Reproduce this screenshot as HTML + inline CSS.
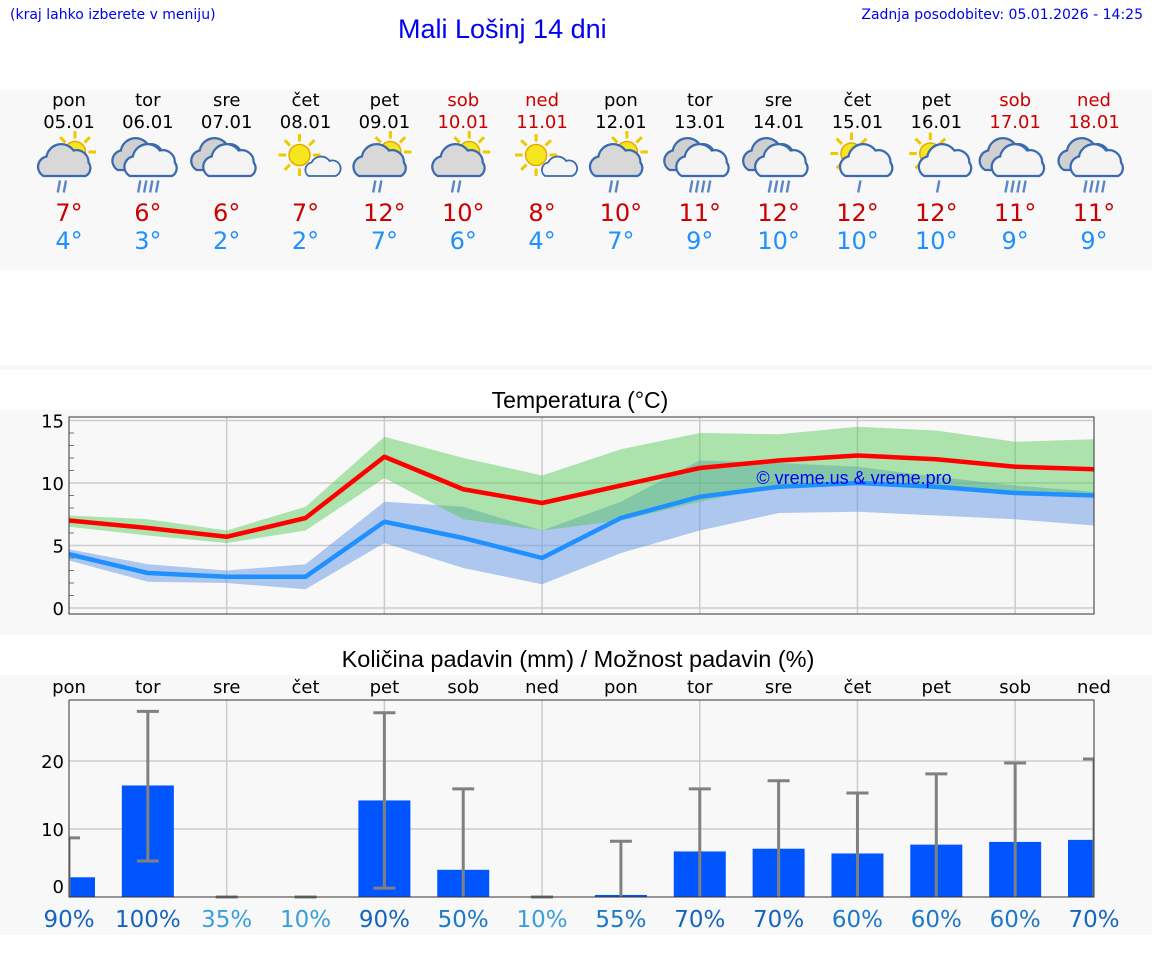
<!DOCTYPE html>
<html><head><meta charset="utf-8">
<style>
body{margin:0;width:1152px;height:975px;background:#fff;font-family:"DejaVu Sans","Liberation Sans",sans-serif;position:relative;overflow:hidden}
.abs{position:absolute}
</style></head>
<body>
<div class="abs" style="left:10px;top:7px;font-size:14px;color:#0000ee">(kraj lahko izberete v meniju)</div>
<div class="abs" style="left:398px;top:14px;font-size:27px;color:#0000ee;font-family:'Liberation Sans',sans-serif">Mali Lošinj 14 dni</div>
<div class="abs" style="right:9px;top:7px;font-size:14px;color:#0000ee">Zadnja posodobitev: 05.01.2026 - 14:25</div>
<div class="abs" style="left:0;top:90px;width:1152px;height:180px;background:#f8f8f8"></div>
<div class="abs" style="left:0;top:365px;width:1152px;height:5px;background:#f8f8f8"></div>
<div class="abs" style="left:0;top:410px;width:1152px;height:225px;background:#f8f8f8"></div>
<div class="abs" style="left:0;top:675px;width:1152px;height:260px;background:#f8f8f8"></div>
<svg id="svg" class="abs" style="left:0;top:0" width="1152" height="975"></svg>
<script>
const days=["pon","tor","sre","čet","pet","sob","ned","pon","tor","sre","čet","pet","sob","ned"];
const dates=["05.01","06.01","07.01","08.01","09.01","10.01","11.01","12.01","13.01","14.01","15.01","16.01","17.01","18.01"];
const iconTypes=["scr","cr","c","sc","scr","scr","sc","scr","cr","cr","sc2","sc2","cr","cr"];
const maxT=[7,6.4,5.7,7.2,12.1,9.5,8.4,9.8,11.2,11.8,12.2,11.9,11.3,11.1];
const maxHi=[7.4,7.1,6.2,8.1,13.7,12,10.6,12.7,14,13.9,14.5,14.2,13.3,13.5];
const maxLo=[6.5,5.8,5.2,6.2,10.4,7.1,6.2,7.0,8.5,9.8,10,9.5,9.2,9.0];
const minT=[4.3,2.8,2.5,2.5,6.9,5.6,4.0,7.2,8.9,9.7,10,9.7,9.2,9.0];
const minHi=[4.7,3.5,3.0,3.5,8.5,8.1,6.2,8.5,11.8,11.6,11.3,10.5,9.8,9.3];
const minLo=[3.8,2.1,2.0,1.5,5.2,3.2,1.9,4.4,6.2,7.6,7.7,7.4,7.1,6.6];
const dispMax=["7°","6°","6°","7°","12°","10°","8°","10°","11°","12°","12°","12°","11°","11°"];
const dispMin=["4°","3°","2°","2°","7°","6°","4°","7°","9°","10°","10°","10°","9°","9°"];
const precip=[2.9,16.4,0,0,14.2,4,0,0.3,6.7,7.1,6.4,7.7,8.1,8.4];
const errHi=[8.7,27.3,0,0,27.1,15.9,0,8.2,15.9,17.1,15.3,18.1,19.7,20.3];
const errLo=[0,5.3,0,0,1.3,0,0,0,0,0,0,0,0,0];
const chance=[90,100,35,10,90,50,10,55,70,70,60,60,60,70];
const tempTicks=[0,5,10,15];
const precipTicks=[0,10,20];

const NS="http://www.w3.org/2000/svg";
const svg=document.getElementById('svg');
function el(t,a,p){const e=document.createElementNS(NS,t);for(const k in a)e.setAttribute(k,a[k]);(p||svg).appendChild(e);return e;}
const X=i=>69+i*(1025/13);
const TY=v=>608-v*12.5;
const PY=v=>897-v*6.8;
const weekend=d=>d==="sob"||d==="ned";

days.forEach((d,i)=>{
  const x=X(i);
  let t=el('text',{x:x,y:106,'text-anchor':'middle','font-size':18,fill:weekend(d)?'#cc0000':'#000'});t.textContent=d;
  
  t=el('text',{x:x,y:128,'text-anchor':'middle','font-size':18,fill:weekend(d)?'#cc0000':'#000'});t.textContent=dates[i];
  
  t=el('text',{x:x,y:221,'text-anchor':'middle','font-size':24,fill:'#cc0000'});t.textContent=dispMax[i];
  
  t=el('text',{x:x,y:249,'text-anchor':'middle','font-size':24,fill:'#1e90ff'});t.textContent=dispMin[i];
  
  const g=el('g',{transform:`translate(${x},164) scale(1.5)`});
  
  const ty=iconTypes[i];
  const sun=(cx,cy,r)=>{for(let k=0;k<8;k++){const a=k*Math.PI/4;el('line',{x1:cx+Math.cos(a)*(r+2),y1:cy+Math.sin(a)*(r+2),x2:cx+Math.cos(a)*(r+7),y2:cy+Math.sin(a)*(r+7),stroke:'#f0c800','stroke-width':2},g);}el('circle',{cx:cx,cy:cy,r:r,fill:'#f5e61e',stroke:'#e8a800','stroke-width':1},g);};
  const cloud=(cx,cy,fill)=>{el('path',{d:`M${cx-14},${cy+8} a7 7 0 0 1 2,-13 a10 10 0 0 1 18,-4 a8 8 0 0 1 10,8 a6 6 0 0 1 -2,9 z`,fill:fill,stroke:'#3a6ab0','stroke-width':1.5},g);};
  const rain=(n,ox)=>{for(let k=0;k<n;k++)el('line',{x1:(ox||-6)+k*4,y1:11,x2:(ox||-6)-1.5+k*4,y2:19,stroke:'#5a86c6','stroke-width':1.6},g);};
  if(ty==="scr"){sun(4,-8,7);cloud(-3,0,'#d8d8d8');rain(2,-6);}
  else if(ty==="cr"){cloud(-6,-4,'#d0d0d0');cloud(2,0,'#f4f4f4');rain(4,-5);}
  else if(ty==="c"){cloud(-6,-4,'#d0d0d0');cloud(2,0,'#f4f4f4');}
  else if(ty==="sc"){sun(-4,-6,7);el('path',{d:'M2,8 a5 5 0 0 1 2,-9 a7 7 0 0 1 12,-1 a5 5 0 0 1 4,10 z',fill:'#f4f4f4',stroke:'#3a6ab0','stroke-width':1.2},g);}
  else {sun(-4,-7,7);cloud(6,0,'#f4f4f4');rain(1,2);}
});

el('text',{x:580,y:408,'text-anchor':'middle','font-size':23,fill:'#000','font-family':'Liberation Sans,sans-serif'}).textContent="Temperatura (°C)";
const tp=el('g',{});
for(let v=1;v<15;v++) el('line',{x1:69,x2:74,y1:TY(v),y2:TY(v),stroke:'#555','stroke-width':0.8},tp);
tempTicks.forEach(v=>{el('line',{x1:69,x2:1094,y1:TY(v),y2:TY(v),stroke:'#ccc','stroke-width':1.5},tp);
  const t=el('text',{x:64,y:TY(v)+7,'text-anchor':'end','font-size':18,fill:'#000'},tp);t.textContent=v;
  });
for(let i=2;i<13;i+=2) el('line',{x1:X(i),x2:X(i),y1:417,y2:614,stroke:'#ccc','stroke-width':1.5},tp);
function band(hi,lo,fill,name){let d='';hi.forEach((v,i)=>d+=(i?'L':'M')+X(i)+','+TY(v));for(let i=lo.length-1;i>=0;i--)d+='L'+X(i)+','+TY(lo[i]);
  const p=el('path',{d:d+'Z',fill:fill},tp);}
band(minHi,minLo,'rgba(100,150,230,0.5)','min-temp-range');
band(maxHi,maxLo,'rgba(80,200,80,0.45)','max-temp-range');
function line(a,c,name){const p=el('polyline',{points:a.map((v,i)=>X(i)+','+TY(v)).join(' '),fill:'none',stroke:c,'stroke-width':4.5,'stroke-linejoin':'round'},tp);}
line(minT,'#1e90ff','min-temp-line');line(maxT,'#ff0000','max-temp-line');
el('rect',{x:69,y:417,width:1025,height:197,fill:'none',stroke:'#333','stroke-width':1},tp);
el('text',{x:854,y:484,'text-anchor':'middle','font-size':18,fill:'#0000ff','font-family':'Liberation Sans,sans-serif'},tp).textContent="© vreme.us & vreme.pro";

el('text',{x:578,y:667,'text-anchor':'middle','font-size':23.5,fill:'#000','font-family':'Liberation Sans,sans-serif'}).textContent="Količina padavin (mm) / Možnost padavin (%)";
const pp=el('g',{});
precipTicks.forEach(v=>{if(v)el('line',{x1:69,x2:1094,y1:PY(v),y2:PY(v),stroke:'#ccc','stroke-width':1.5},pp);
  const t=el('text',{x:64,y:(v?PY(v):886)+7,'text-anchor':'end','font-size':18,fill:'#000'},pp);t.textContent=v;
  });
for(let i=2;i<13;i+=2) el('line',{x1:X(i),x2:X(i),y1:700,y2:897,stroke:'#ccc','stroke-width':1.5},pp);
const cp=el('clipPath',{id:'pc'});el('rect',{x:69,y:690,width:1025,height:210},cp);
const pc=el('g',{'clip-path':'url(#pc)'},pp);
precip.forEach((v,i)=>{const x=X(i);
  const b=el('rect',{x:x-26,y:PY(v),width:52,height:897-PY(v),fill:'#0055ff'},pc);
  
  const e=el('g',{},pc);
  el('line',{x1:x,x2:x,y1:PY(errHi[i]),y2:PY(errLo[i]),stroke:'#808080','stroke-width':3},e);
  el('line',{x1:x-11,x2:x+11,y1:PY(errHi[i]),y2:PY(errHi[i]),stroke:'#808080','stroke-width':3},e);
  if(errLo[i]>0) el('line',{x1:x-11,x2:x+11,y1:PY(errLo[i]),y2:PY(errLo[i]),stroke:'#808080','stroke-width':3},e);
  const t=el('text',{x:x,y:693,'text-anchor':'middle','font-size':18,fill:'#000'},pp);t.textContent=days[i];
  
  const c=chance[i];
  const p=el('text',{x:x,y:927,'text-anchor':'middle','font-size':23,fill:c>=70?'#1565c0':(c>=50?'#1e78c8':'#3aa0dc')},pp);p.textContent=c+'%';
  
});
el('polyline',{points:'69,700 1094,700 1094,897 69,897 69,700',fill:'none',stroke:'#333','stroke-width':1},pp);
</script>
</body></html>
